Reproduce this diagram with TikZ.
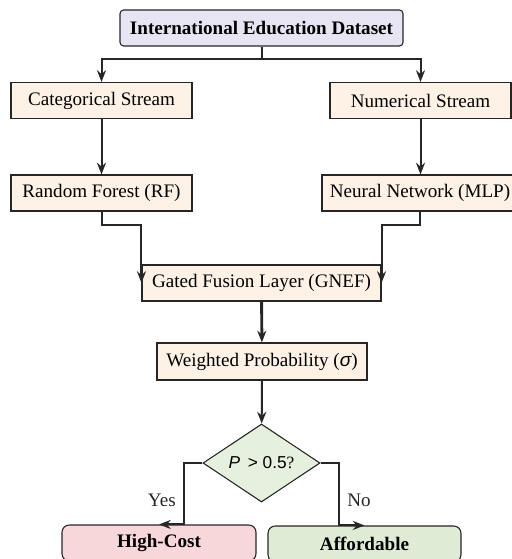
\documentclass[tikz,border=0pt]{standalone}
\usepackage{fontspec}
\setmainfont{Liberation Serif}
\setsansfont{Liberation Sans}
\usetikzlibrary{calc,arrows.meta,shapes.geometric}
\definecolor{mylav}{HTML}{E7E5F3}
\definecolor{mypeach}{HTML}{FDF2E5}
\definecolor{mygreen}{HTML}{E5F0DF}
\definecolor{mypink}{HTML}{F8D7DB}
\definecolor{myok}{HTML}{DEEBD5}
\colorlet{myline}{black!85}
\def\Px{0.55pt}
\tikzset{
  every node/.style={font=\fontsize{10.5}{12}\selectfont},
  box/.style={draw=myline, line width=0.6pt, fill=mypeach, inner sep=0pt, minimum height=36*\Px},
  arr/.style={-{Stealth[length=6.5pt,width=5pt,inset=2.2pt]}, line width=1.1pt, myline},
}

\begin{document}
\begin{tikzpicture}[x=\Px, y=-\Px]
  \useasboundingbox (0,0) rectangle (511,559);

  % boxes
  \node[box, fill=mylav, rounded corners=2pt, minimum width=283*\Px,
        font=\fontsize{10.5}{12}\selectfont\bfseries] (data) at (261.5,28) {International Education Dataset};

  \node[box, minimum width=181*\Px] (cat) at (101.5,100.5) {Categorical Stream};
  \node[box, minimum width=181*\Px] (num) at (420.5,100.5) {Numerical Stream};

  \node[box, minimum width=181*\Px] (rf) at (101.5,193) {Random Forest (RF)};
  \node[box, minimum width=196*\Px] (nn) at (420,193) {Neural Network (MLP)};

  \node[box, minimum width=239*\Px] (gate) at (261.5,283) {Gated Fusion Layer (GNEF)};
  \node[box, minimum width=210*\Px, minimum height=37*\Px] (prob) at (262,361.5)
       {Weighted Probability ({\sffamily\itshape σ})};

  \node[draw=myline, line width=0.6pt, fill=mygreen, diamond, inner sep=0pt,
        minimum width=117*\Px, minimum height=78*\Px,
        font=\fontsize{9.5}{11}\selectfont] (dec) at (261.5,463) {\textsf{\textit{P} \,> 0.5}?};

  \node[box, fill=mypink, rounded corners=4pt, minimum width=194*\Px] (hc) at (159,543) {\bfseries High-Cost};
  \node[box, fill=myok, rounded corners=4pt, minimum width=193*\Px] (aff) at (364.5,544) {\bfseries Affordable};

  % connectors
  \draw[arr] (data.south) -- ++(0,12) -| (cat.north);
  \draw[arr] (data.south) -- ++(0,12) -| (num.north);
  \draw[arr] (cat) -- (rf);
  \draw[arr] (num.south) -- (num.south |- nn.north);
  \draw[arr] (rf.south) -- ++(0,13) -| (gate.west);
  \draw[arr] (nn.south) -- ++(0,13) -| (gate.east);
  \draw[arr, line width=1.6pt] (gate) -- (prob);
  \draw[arr] (prob) -- (dec);

  \draw[arr] (dec.west) -| ($(hc.north)+(25,0)$) node[pos=0.8, left, inner sep=4pt] {Yes} -- (hc.north);
  \draw[arr] (dec.east) -| ($(aff.north)+(-25.5,0)$) node[pos=0.8, right, inner sep=4pt] {No} -- (aff.north);
\end{tikzpicture}
\end{document}
